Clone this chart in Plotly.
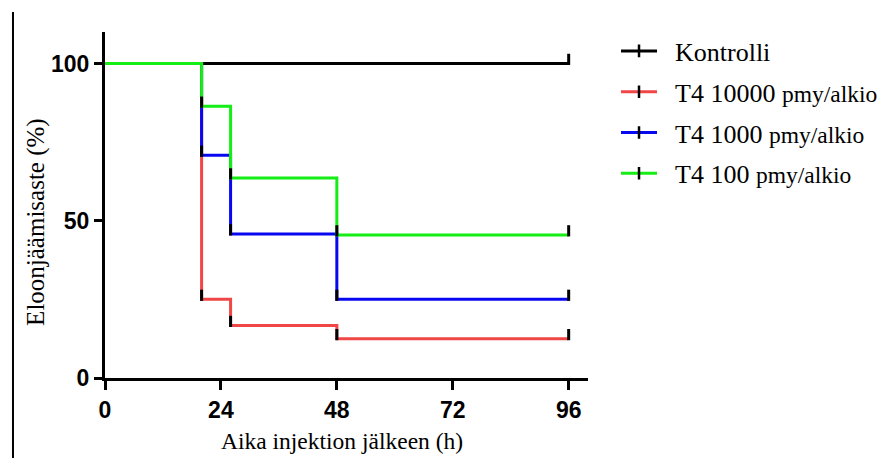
import plotly.graph_objects as go

# ---- data ----
times = [0, 20, 26, 48, 96]
series_names = ["Kontrolli", "T4 10000", "T4 1000", "T4 100"]
kontrolli = [100, 100, 100, 100, 100]
t4_10000 = [100, 25.0, 16.7, 12.5, 12.5]
t4_1000 = [100, 70.8, 45.8, 25.0, 25.0]
t4_100 = [100, 86.4, 63.6, 45.5, 45.5]
x_ticks = [0, 24, 48, 72, 96]
y_ticks = [0, 50, 100]
unit_label = "pmy/alkio"

series = [kontrolli, t4_10000, t4_1000, t4_100]
colors = ["#000000", "#f04646", "#0808f0", "#14ee14"]

TICK_OFFSET = 1.3  # censor tick drawn just above its level

fig = go.Figure()

for vals, col in zip(series, colors):
    fig.add_trace(go.Scatter(
        x=times, y=vals, mode="lines", line=dict(color=col, width=3, shape="hv"),
        showlegend=False, hoverinfo="skip"))
    tx, ty = [], []
    for i in range(1, len(times)):
        if vals[i] != vals[i - 1] or i == len(times) - 1:
            tx.append(times[i])
            ty.append(vals[i] + TICK_OFFSET)
    fig.add_trace(go.Scatter(
        x=tx, y=ty, mode="markers",
        marker=dict(symbol="line-ns-open", size=8, color="black",
                    line=dict(color="black", width=3)),
        showlegend=False, hoverinfo="skip"))

# legend entries
for name, col in zip(series_names, colors):
    label = "\u2002" + (name if name == "Kontrolli" else (
        f"{name} <span style='font-size:23.5px'>{unit_label}</span>"))
    fig.add_trace(go.Scatter(
        x=[None], y=[None], mode="lines+markers", name=label,
        legendgroup=name,
        line=dict(color=col, width=3),
        marker=dict(symbol="line-ns-open", size=9, color="black",
                    line=dict(color="black", width=2.5))))

tick_font = dict(family="Liberation Sans, Arial, sans-serif", size=23, color="black", weight="bold")
serif = "Liberation Serif, Times New Roman, serif"

fig.update_layout(
    width=880, height=450,
    margin=dict(l=97, r=300, t=24, b=80, autoexpand=False),
    paper_bgcolor="white", plot_bgcolor="white",
    showlegend=True,
    legend=dict(x=1.058, y=1.013, xanchor="left", yanchor="top",
                font=dict(family=serif, size=26, color="black"),
                itemwidth=36,
                tracegroupgap=4, bgcolor="rgba(0,0,0,0)"),
    xaxis=dict(range=[0, 100], tickvals=x_ticks, ticks="outside", ticklen=9,
               tickwidth=3, tickcolor="black", showline=True, linewidth=3,
               linecolor="black", showgrid=False, zeroline=False,
               tickfont=tick_font),
    yaxis=dict(range=[0, 110], tickvals=y_ticks, ticks="outside", ticklen=8,
               tickwidth=3, tickcolor="black", showline=True, linewidth=3,
               linecolor="black", showgrid=False, zeroline=False,
               tickfont=tick_font),
    annotations=[
        dict(text="Aika injektion jälkeen (h)", xref="paper", yref="paper",
             x=0.49, y=-0.182, xanchor="center", yanchor="middle", showarrow=False,
             font=dict(family=serif, size=23.5, color="black")),
        dict(text="Eloonjäämisaste (%)", xref="paper", yref="paper",
             x=-0.143, y=0.451, xanchor="center", yanchor="middle", showarrow=False,
             textangle=-90, font=dict(family=serif, size=25, color="black")),
    ],
    shapes=[dict(type="line", xref="paper", yref="paper",
                 x0=-0.1905, x1=-0.1905, y0=1.058, y1=-0.24,
                 line=dict(color="black", width=2))],
)

fig.write_html("out.html")
